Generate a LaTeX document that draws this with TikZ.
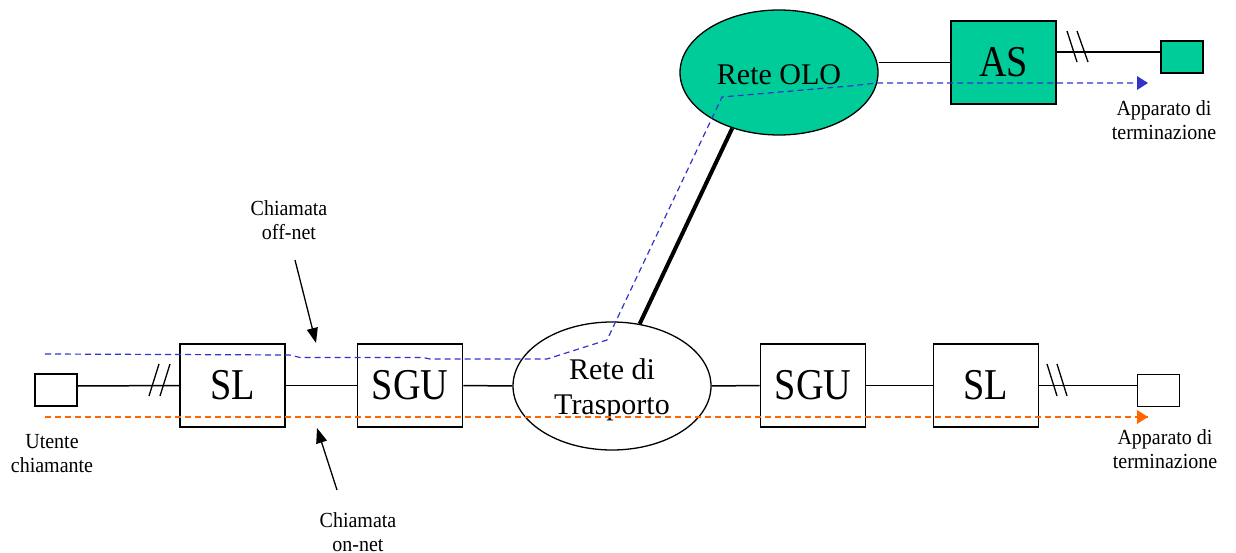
\documentclass[tikz,border=0pt]{standalone}
\usepackage{fontspec}
\setmainfont{Liberation Serif}
\newfontfamily\narrowserif[FakeStretch=0.87]{Liberation Serif}
\newfontfamily\labelserif[FakeStretch=0.93]{Liberation Serif}
\usetikzlibrary{shapes.geometric,arrows.meta}
\definecolor{tealfill}{RGB}{0,204,153}
\definecolor{bluepath}{RGB}{51,51,204}
\definecolor{orangepath}{RGB}{255,102,0}
\tikzset{
  bigbox/.style={draw,line width=1.6pt,minimum width=105pt,minimum height=83pt,inner sep=0pt,font=\narrowserif\fontsize{44}{46}\selectfont},
  termbox/.style={draw,line width=1.5pt,minimum width=42pt,minimum height=32pt,inner sep=0pt},
  net/.style={draw,ellipse,line width=1.3pt,inner sep=0pt},
  nettext/.style={align=center,inner sep=0pt,font=\fontsize{30}{35}\selectfont},
  lbl/.style={align=center,inner sep=0pt,font=\labelserif\fontsize{21.5}{24}\selectfont},
  link/.style={line width=1.5pt},
  slash/.style={line width=1.3pt},
  bpath/.style={bluepath,line width=1.2pt,dash pattern=on 6pt off 4pt},
  opath/.style={orangepath,line width=1.3pt,dash pattern=on 6pt off 4pt},
  callout/.style={line width=1.3pt,-{Triangle[length=15pt,width=11pt]}},
}
\begin{document}
\begin{tikzpicture}[x=1pt,y=-1pt]
\useasboundingbox (0,0) rectangle (1236,553);
% lower chain
\node[termbox] (lt) at (56,390) {};
\node[bigbox] (sl1) at (232.5,385.5) {SL};
\node[bigbox] (sgu1) at (410,385.5) {SGU};
\node[net,minimum width=198pt,minimum height=128pt] (tr) at (612,386) {};
\node[nettext] (trtxt) at ([yshift=-4pt]tr.center) {Rete di\\Trasporto};
\node[bigbox] (sgu2) at (813,385.5) {SGU};
\node[bigbox] (sl2) at (986,385.5) {SL};
\node[termbox] (rt) at (1158.5,390.5) {};
% upper chain
\node[net,fill=tealfill,minimum width=198pt,minimum height=125pt] (olo) at (779,72.5) {};
\node[nettext] (olotxt) at ([yshift=-2pt]olo.center) {Rete OLO};
\node[bigbox,fill=tealfill] (as) at (1003.5,62.5) {AS};
\node[termbox,fill=tealfill] (tu) at (1182,57) {};
% connections
\draw[link] ([yshift=4pt]lt.east) -- (sl1.west);
\draw[link] (sl1.east) -- (sgu1.west);
\draw[link] (sgu1.east) -- (tr.west);
\draw[link] (tr.east) -- (sgu2.west);
\draw[link] (sgu2.east) -- (sl2.west);
\draw[link] (sl2.east) -- ([yshift=5pt]rt.west);
\draw[line width=4pt] (tr.66) -- (olo.230);
\draw[link] (olo.east |- as.west) -- (as.west);
\draw[link] ([yshift=5pt]tu.west -| as.east) -- ([yshift=5pt]tu.west);
% slashes
\draw[slash] (149,396) -- (159,364);
\draw[slash] (160,396) -- (170,364);
\draw[slash] (1047,364) -- (1057,396);
\draw[slash] (1057,364) -- (1067,396);
\draw[slash] (1067,31) -- (1077,62);
\draw[slash] (1077,31) -- (1088,62);
% labels
\node[lbl] (ut) at (52,454) {Utente\\chiamante};
\node[lbl] (ap1) at (1165,449) {Apparato di\\terminazione};
\node[lbl] (ap2) at (1164,120) {Apparato di\\terminazione};
\node[lbl] (off) at (289,220) {Chiamata\\off-net};
\node[lbl] (on) at (358,532) {Chiamata\\on-net};
% paths
\coordinate (os) at (45,417);
\coordinate (oe) at (1148,417);
\draw[opath] (os) -- (oe);
\fill[orangepath] (oe) -- ++(-11,-7) -- ++(0,14) -- cycle;
\coordinate (bs) at (45,354);
\coordinate (be) at (1148,83);
\draw[bpath] (bs) -- (290,355) -- (300,357.5) -- (423,357.5) -- (430,359) -- (547,359) -- (607,340) -- (722,97) -- (850,86) -- (877,83) -- (1137,83);
\fill[bluepath] (be) -- ++(-11,-7) -- ++(0,14) -- cycle;
% callouts
\coordinate (offtip) at (316,343);
\coordinate (ontip) at (317,428);
\draw[callout] (295,260) -- (offtip);
\draw[callout] (337,490) -- (ontip);
\end{tikzpicture}
\end{document}
